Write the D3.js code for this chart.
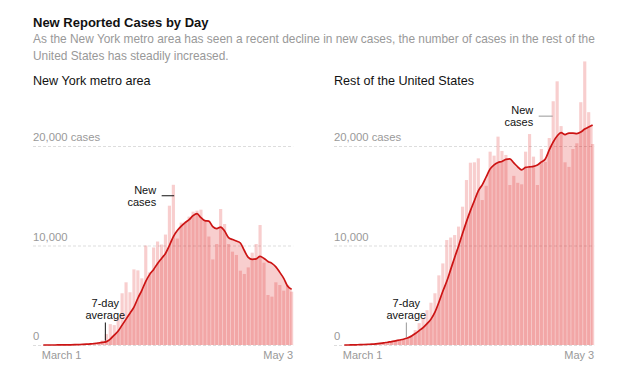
<!DOCTYPE html>
<html>
<head>
<meta charset="utf-8">
<script src="https://cdn.jsdelivr.net/npm/d3@7"></script>
<style>
  body { margin: 0; background: #fff; }
  svg { display: block; font-family: "Liberation Sans", Arial, sans-serif; }
</style>
</head>
<body>
<div id="app"></div>
<script>
// Days shown: March 1 through May 3 (64 days)
const dates = d3.timeDay.range(new Date(2020, 2, 1), new Date(2020, 4, 4));

const nyCases = [
  0, 0, 0, 1, 0, 3, 10, 20, 30, 50,
  90, 120, 160, 230, 300, 450, 1100, 2100, 2000, 2700,
  5200, 6300, 5300, 7600, 7500, 6700, 10000, 7300, 9800, 10400,
  10100, 11100, 14000, 16100, 10700, 12300, 12400, 12900, 13400, 13500,
  13600, 12500, 10900, 8600, 10150, 13670, 12160, 10150, 9380, 9050,
  7470, 7140, 7800, 9280, 10150, 12060, 8270, 5025, 4860, 6300,
  6030, 5460, 6030, 5360
];
const nyAverage = [
  0, 0, 0, 0, 5, 10, 15, 20, 30, 45,
  60, 80, 110, 150, 200, 260, 340, 600, 1000, 1400,
  2000, 2600, 3200, 3800, 4700, 5500, 6400, 7100, 7600, 8200,
  8700, 9200, 10000, 10900, 11500, 11950, 12300, 12600, 13000, 13200,
  12800, 12500, 12450, 11900, 11700, 11850, 11450, 10800, 10600, 10450,
  10250, 9500, 8800, 8600, 8650, 8900, 8700, 8400, 8200, 7850,
  7300, 6700, 5900, 5600
];
const restCases = [
  0, 0, 5, 10, 20, 40, 60, 80, 100, 150,
  200, 300, 350, 430, 500, 570, 770, 1000, 1500, 2200,
  2700, 3500, 4250, 5200, 7000, 8200, 10550, 10800, 11050, 11900,
  13900, 16580, 18320, 18360, 18760, 14570, 16000, 19430, 19030, 20940,
  19500, 19100, 16080, 17000, 16300, 16150, 19430, 21200, 18930, 16080,
  19700, 18400, 20800, 24500, 26500, 22000, 18360, 17900, 19700, 20270,
  24400, 28500, 23400, 20200
];
const restAverage = [
  0, 0, 10, 20, 30, 50, 70, 90, 120, 160,
  210, 280, 340, 420, 500, 580, 700, 880, 1150, 1450,
  1750, 2150, 2600, 3300, 4300, 5400, 6400, 7600, 8800, 9950,
  11200, 12400, 13500, 14500, 15500, 16100, 16900, 17700, 18100, 18350,
  18450, 18650, 18700, 18300, 17900, 17600, 17850, 17900, 17950, 18100,
  18400, 18700, 19600, 20400, 21000, 21350, 21150, 21300, 21300, 21250,
  21400, 21700, 21900, 22100
];

const panelTitles = ["New York metro area", "Rest of the United States"];
const yTicks = [0, 10000, 20000];
const xTickLabels = ["March 1", "May 3"];

const WIDTH = 640;
const HEIGHT = 374;
const PANEL_LEFT = [41.7, 342.7];
const PANEL_WIDTH = 251.5;
const LABEL_INSET = 8.7;
const BASE_Y = 345;
const TOP_Y = 146;
const BAR_COLOR = "rgb(220, 10, 10)";
const LINE_COLOR = "#cc1414";
const GRAY = "#999";

const svg = d3
  .select("#app")
  .append("svg")
  .attr("width", WIDTH)
  .attr("height", HEIGHT);

// Header
svg.append("text")
  .attr("x", 33).attr("y", 26.7)
  .attr("font-size", 13).attr("font-weight", "bold").attr("fill", "#121212")
  .text("New Reported Cases by Day");
svg.append("text")
  .attr("x", 33).attr("y", 43.3)
  .attr("font-size", 11.9).attr("fill", GRAY)
  .text("As the New York metro area has seen a recent decline in new cases, the number of cases in the rest of the");
svg.append("text")
  .attr("x", 33).attr("y", 60)
  .attr("font-size", 11.9).attr("fill", GRAY)
  .text("United States has steadily increased.");

const panels = [
  { cases: nyCases, average: nyAverage, lead: "#111", newDay: 33, newValue: 15000, newShift: 0.8, newLen: 12.5 },
  { cases: restCases, average: restAverage, lead: GRAY, newDay: 53, newValue: 23000, newShift: -0.5, newLen: 14 }
];

const y = d3.scaleLinear().domain([0, 20000]).range([BASE_Y, TOP_Y]);

panels.forEach((p, i) => {
  const left = PANEL_LEFT[i];
  const x = d3.scaleBand().domain(dates).range([left, left + PANEL_WIDTH]).paddingInner(0.2);
  const bw = x.bandwidth();
  const cx = (d) => x(d) + bw / 2;
  const g = svg.append("g");

  // Panel title
  g.append("text")
    .attr("x", left - LABEL_INSET).attr("y", 85.3)
    .attr("font-size", 12.6).attr("fill", "#121212")
    .text(panelTitles[i]);

  // Gridlines + y labels
  const yAxis = g.append("g")
    .attr("transform", `translate(${left - LABEL_INSET},0)`)
    .call(
      d3.axisRight(y)
        .tickValues(yTicks)
        .tickSize(PANEL_WIDTH + LABEL_INSET)
        .tickFormat((d) => d3.format(",")(d) + (d === 20000 ? " cases" : ""))
    );
  yAxis.select(".domain").remove();
  yAxis.selectAll(".tick line")
    .attr("stroke", "#ddd").attr("stroke-dasharray", "3,2");
  yAxis.selectAll(".tick text")
    .attr("x", 0).attr("dy", -5.5)
    .attr("font-size", 11.3).attr("fill", GRAY)
    .attr("font-family", "Liberation Sans, Arial, sans-serif");

  // 7-day average area
  g.append("path")
    .datum(dates)
    .attr("fill", BAR_COLOR).attr("fill-opacity", 0.2)
    .attr("d", d3.area()
      .x((d) => cx(d))
      .y0(BASE_Y)
      .y1((d, j) => y(p.average[j]))
      .curve(d3.curveMonotoneX));

  // Daily bars
  g.append("g")
    .selectAll("rect")
    .data(dates)
    .join("rect")
    .attr("x", (d) => x(d))
    .attr("width", bw)
    .attr("y", (d, j) => y(p.cases[j]))
    .attr("height", (d, j) => BASE_Y - y(p.cases[j]))
    .attr("fill", BAR_COLOR).attr("fill-opacity", 0.2);

  // 7-day average line
  g.append("path")
    .datum(dates)
    .attr("fill", "none")
    .attr("stroke", LINE_COLOR).attr("stroke-width", 1.7)
    .attr("stroke-linejoin", "round")
    .attr("d", d3.line()
      .x((d) => cx(d))
      .y((d, j) => y(p.average[j]))
      .curve(d3.curveMonotoneX));

  // x axis: first and last day
  const xAxis = g.append("g")
    .attr("transform", `translate(0,${BASE_Y})`)
    .call(
      d3.axisBottom(x)
        .tickValues([dates[0], dates[dates.length - 1]])
        .tickSize(0).tickPadding(6)
        .tickFormat((d, j) => xTickLabels[j])
    );
  xAxis.select(".domain").remove();
  xAxis.selectAll(".tick text")
    .attr("font-size", 11).attr("fill", GRAY)
    .attr("font-family", "Liberation Sans, Arial, sans-serif")
    .attr("text-anchor", (d, j) => (j === 0 ? "start" : "end"))
    .attr("x", (d, j) => (j === 0 ? -bw / 2 : bw / 2));

  // "New cases" annotation
  const nEnd = cx(dates[p.newDay]) + p.newShift;
  const nY = y(p.newValue);
  g.append("line")
    .attr("x1", nEnd - p.newLen).attr("x2", nEnd)
    .attr("y1", nY).attr("y2", nY)
    .attr("stroke", p.lead).attr("stroke-width", 1);
  const newText = g.append("text")
    .attr("font-size", 11).attr("fill", "#121212").attr("text-anchor", "end");
  newText.append("tspan").attr("x", nEnd - p.newLen - 5.5).attr("y", nY - 2).text("New");
  newText.append("tspan").attr("x", nEnd - p.newLen - 5.5).attr("y", nY + 9.8).text("cases");

  // "7-day average" annotation
  const aDay = dates[16];
  const aX = cx(aDay) - 1;
  g.append("line")
    .attr("x1", aX).attr("x2", aX)
    .attr("y1", 322.5).attr("y2", y(p.average[16]) - 1)
    .attr("stroke", p.lead).attr("stroke-width", 1);
  const avgText = g.append("text")
    .attr("font-size", 11).attr("fill", "#121212").attr("text-anchor", "middle");
  avgText.append("tspan").attr("x", aX).attr("y", 307).text("7-day");
  avgText.append("tspan").attr("x", aX).attr("y", 318.5).text("average");
});
</script>
</body>
</html>
